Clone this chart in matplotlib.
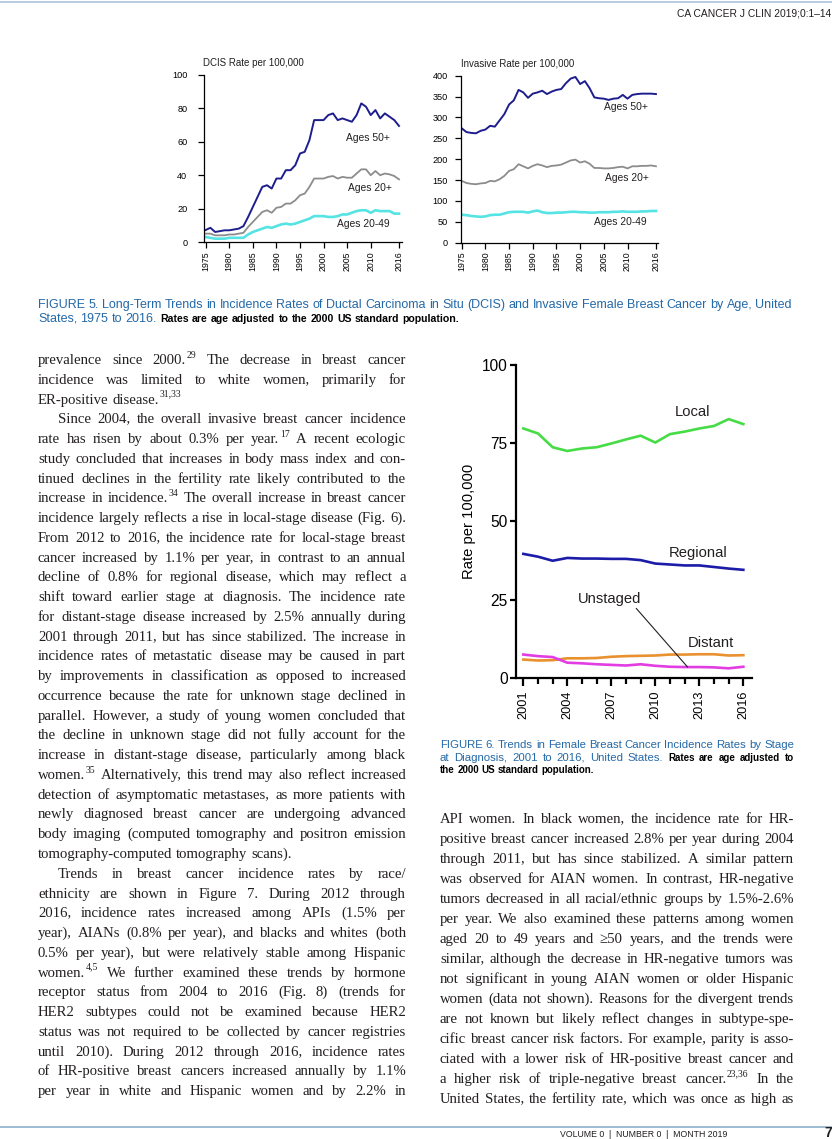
import math
import matplotlib
matplotlib.use("Agg")
import matplotlib.pyplot as plt

# ---- data: Figure 5 (rates per 100,000, 1975-2016) ----
years5 = list(range(1975, 2017))
dcis_50plus = [7.2, 8.5, 6.0, 6.5, 7.0, 7.0, 7.5, 8.0, 9.5, 15,
               21, 27, 33, 34, 32, 38, 38, 43, 43, 46,
               53, 54, 61, 73, 73, 73, 76, 77, 73, 74,
               73, 72, 76, 83, 81, 76, 79, 74, 77, 75,
               73, 69.5]
dcis_20plus = [5, 5, 4, 4, 4, 4.5, 4.5, 5, 5.5, 9,
               12, 15, 18, 19, 17.5, 20.5, 21, 23, 23, 25,
               28, 29, 33, 38, 38, 38, 39, 39.5, 38, 39,
               38.5, 38.5, 41, 43.5, 43.5, 40, 42.5, 40, 41, 40.5,
               39.5, 37.5]
dcis_20to49 = [3, 2.5, 2, 2, 2, 2.5, 2.5, 2.5, 2.5, 4.5,
               6, 7, 8, 9, 8.5, 9.5, 10.5, 11, 10.5, 11,
               12, 13, 14, 15.5, 15.5, 15.5, 15, 15, 15.5, 16.5,
               16.5, 17.5, 18.5, 19, 19, 17.5, 19, 18.5, 18.5, 18.5,
               17, 17]
inv_50plus = [274, 265, 263, 262, 268, 271, 280, 278, 293, 308,
              331, 341, 366, 360, 347, 357, 360, 364, 356, 362,
              366, 368, 382, 393, 397, 380, 387, 370, 348, 346,
              345, 342, 345, 346, 354, 345, 354, 356, 357, 357,
              357, 356]
inv_20plus = [148, 143, 141, 140, 142, 143, 148, 147, 152, 160,
              172, 176, 188, 183, 178, 184, 188, 185, 181, 184,
              185, 187, 192, 197, 199, 192, 195, 189, 179, 179,
              178, 178, 179, 181, 182, 178, 183, 183, 184, 184,
              185, 183]
inv_20to49 = [67, 66, 64, 63, 62, 63, 66, 67, 67, 70,
              73, 74, 74, 74, 72, 75, 77, 73, 71, 71,
              72, 72, 73, 74, 74, 73, 73, 72, 72, 73,
              73, 73, 74, 74, 75, 74, 74, 74, 75, 75,
              76, 76]
ticks5 = [1975, 1980, 1985, 1990, 1995, 2000, 2005, 2010, 2016]

# ---- data: Figure 6 (rates per 100,000 by stage, 2001-2016) ----
years6 = list(range(2001, 2017))
local = [79.7, 78.1, 73.7, 72.5, 73.3, 73.7, 74.9, 76.2, 77.4, 75.2, 77.9, 78.7, 79.7, 80.5, 82.7, 81.1]
regional = [39.6, 38.7, 37.4, 38.3, 38.1, 38.1, 38.0, 38.0, 37.6, 36.5, 36.2, 35.9, 35.9, 35.4, 34.9, 34.5]
distant = [5.8, 5.5, 5.6, 6.2, 6.2, 6.3, 6.7, 6.9, 7.0, 7.1, 7.4, 7.4, 7.5, 7.5, 7.1, 7.2]
unstaged = [7.4, 6.9, 6.6, 4.8, 4.6, 4.3, 4.1, 3.9, 4.3, 3.8, 3.5, 3.4, 3.4, 3.3, 3.0, 3.5]
ticks6 = [2001, 2004, 2007, 2010, 2013, 2016]

# ---- page text ----
left_lines = [
    "prevalence since 2000.^29 The decrease in breast cancer",
    "incidence was limited to white women, primarily for",
    "ER-positive disease.^31,33",
    "Since 2004, the overall invasive breast cancer incidence",
    "rate has risen by about 0.3% per year.^17 A recent ecologic",
    "study concluded that increases in body mass index and con-",
    "tinued declines in the fertility rate likely contributed to the",
    "increase in incidence.^34 The overall increase in breast cancer",
    "incidence largely reflects a rise in local-stage disease (Fig. 6).",
    "From 2012 to 2016, the incidence rate for local-stage breast",
    "cancer increased by 1.1% per year, in contrast to an annual",
    "decline of 0.8% for regional disease, which may reflect a",
    "shift toward earlier stage at diagnosis. The incidence rate",
    "for distant-stage disease increased by 2.5% annually during",
    "2001 through 2011, but has since stabilized. The increase in",
    "incidence rates of metastatic disease may be caused in part",
    "by improvements in classification as opposed to increased",
    "occurrence because the rate for unknown stage declined in",
    "parallel. However, a study of young women concluded that",
    "the decline in unknown stage did not fully account for the",
    "increase in distant-stage disease, particularly among black",
    "women.^35 Alternatively, this trend may also reflect increased",
    "detection of asymptomatic metastases, as more patients with",
    "newly diagnosed breast cancer are undergoing advanced",
    "body imaging (computed tomography and positron emission",
    "tomography-computed tomography scans).",
    "Trends in breast cancer incidence rates by race/",
    "ethnicity are shown in Figure 7. During 2012 through",
    "2016, incidence rates increased among APIs (1.5% per",
    "year), AIANs (0.8% per year), and blacks and whites (both",
    "0.5% per year), but were relatively stable among Hispanic",
    "women.^4,5 We further examined these trends by hormone",
    "receptor status from 2004 to 2016 (Fig. 8) (trends for",
    "HER2 subtypes could not be examined because HER2",
    "status was not required to be collected by cancer registries",
    "until 2010). During 2012 through 2016, incidence rates",
    "of HR-positive breast cancers increased annually by 1.1%",
    "per year in white and Hispanic women and by 2.2% in",
]
left_indent = [3, 26]
left_ragged = [2, 25]

right_lines = [
    "API women. In black women, the incidence rate for HR-",
    "positive breast cancer increased 2.8% per year during 2004",
    "through 2011, but has since stabilized. A similar pattern",
    "was observed for AIAN women. In contrast, HR-negative",
    "tumors decreased in all racial/ethnic groups by 1.5%-2.6%",
    "per year. We also examined these patterns among women",
    "aged 20 to 49 years and \u226550 years, and the trends were",
    "similar, although the decrease in HR-negative tumors was",
    "not significant in young AIAN women or older Hispanic",
    "women (data not shown). Reasons for the divergent trends",
    "are not known but likely reflect changes in subtype-spe-",
    "cific breast cancer risk factors. For example, parity is asso-",
    "ciated with a lower risk of HR-positive breast cancer and",
    "a higher risk of triple-negative breast cancer.^23,36 In the",
    "United States, the fertility rate, which was once as high as",
]

W, H = 832, 1139
fig = plt.figure(figsize=(W / 100, H / 100), dpi=100)
rend = fig.canvas.get_renderer()

SANS = ["Liberation Sans", "DejaVu Sans"]
SERIF = ["Liberation Serif", "DejaVu Serif"]
BLUE = "#2469a8"
INK = "#231f20"


def put(x, y, s, **kw):
    kw.setdefault("va", "baseline")
    return fig.text(x / W, 1 - y / H, s, **kw)


def measure(s, st):
    # ink width, height and descent of s, in pixels
    t = put(0, 500, s, **st)
    w = t.get_window_extent(rend).width
    _, h, d = rend.get_text_width_height_descent(s, t.get_fontproperties(), ismath=False)
    t.remove()
    return w, h, d


def put_word(x, y, s, st):
    # place on the pixel grid so every word lands on the same baseline row
    _, h, d = measure(s, st)
    yy = round(y) + math.floor(h) - math.floor(h - d) - d
    return put(x, yy, s, **st)


def px_axes(l, t, r, b):
    return fig.add_axes([l / W, 1 - b / H, (r - l) / W, (b - t) / H])


def set_line(words, x0, x1, y, justify=True):
    # words: list of (text, style); "^" marks a superscript
    items = []
    for s, st in words:
        base, _, sup = s.partition("^")
        wb = measure(base, st)[0]
        sst = dict(st, fontsize=st["fontsize"] * 0.66)
        ws = measure(sup, sst)[0] + 0.8 if sup else 0
        items.append((base, st, wb, sup, sst, ws))
    total = sum(it[2] + it[5] for it in items)
    if justify and len(items) > 1:
        gap = (x1 - x0 - total) / (len(items) - 1)
    else:
        gap = items[0][1]["fontsize"] * 0.36
    x = x0
    for base, st, wb, sup, sst, ws in items:
        put_word(x, y, base, st)
        if sup:
            put_word(x + wb + 0.6, y - st["fontsize"] * 0.6, sup, sst)
        x += wb + ws + gap


body = dict(fontsize=10.6, family=SERIF, color=INK)
for i, ln in enumerate(left_lines):
    x0 = 38 + (20 if i in left_indent else 0)
    set_line([(w, body) for w in ln.split()], x0, 406, 364 + i * 19.76,
             justify=i not in left_ragged)
for i, ln in enumerate(right_lines):
    set_line([(w, body) for w in ln.split()], 440, 794, 823 + i * 20)

# captions
cap5 = dict(fontsize=9.0, family=SANS, color=BLUE)
cap5b = dict(fontsize=7.6, family=SANS, color="black", weight="bold")
l1 = "FIGURE 5. Long-Term Trends in Incidence Rates of Ductal Carcinoma in Situ (DCIS) and Invasive Female Breast Cancer by Age, United"
set_line([(w, cap5) for w in l1.split()], 38, 792, 308)
set_line([(w, cap5) for w in "States, 1975 to 2016.".split()] +
         [(w, cap5b) for w in "Rates are age adjusted to the 2000 US standard population.".split()],
         38, 792, 322, justify=False)

cap6 = dict(fontsize=8.2, family=SANS, color=BLUE)
cap6b = dict(fontsize=7.0, family=SANS, color="black", weight="bold")
set_line([(w, cap6) for w in "FIGURE 6. Trends in Female Breast Cancer Incidence Rates by Stage".split()],
         440, 794, 748)
set_line([(w, cap6) for w in "at Diagnosis, 2001 to 2016, United States.".split()] +
         [(w, cap6b) for w in "Rates are age adjusted to".split()], 440, 794, 761)
set_line([(w, cap6b) for w in "the 2000 US standard population.".split()], 440, 794, 773, justify=False)

# header / footer
fig.add_artist(plt.Line2D([0, 1], [1 - 1.5 / H] * 2, color="#a9c4dc", lw=1.2))
put(831, 17, "CA CANCER J CLIN 2019;0:1\u201314", fontsize=7.4, family=SANS, color=INK, ha="right")
fig.add_artist(plt.Line2D([0, 1], [1 - 1127 / H] * 2, color="#8fb0cc", lw=1.2))
put(644, 1137, "VOLUME 0  |  NUMBER 0  |  MONTH 2019", fontsize=6.3, family=SANS, color=INK, ha="center")
put(832, 1137, "7", fontsize=10, family=SANS, color=INK, weight="bold", ha="right")


def style5(ax, pad_y):
    for s in ["top", "right"]:
        ax.spines[s].set_visible(False)
    for s in ["left", "bottom"]:
        ax.spines[s].set_linewidth(0.9)
    ax.set_xticks(ticks5)
    ax.set_xticklabels([str(t) for t in ticks5], rotation=90, family=SANS, fontsize=6.3)
    ax.tick_params(axis="x", length=4, width=0.9, pad=2.5)
    ax.tick_params(axis="y", length=4, width=0.9, pad=pad_y, labelsize=6.6)
    for lab in ax.get_yticklabels():
        lab.set_family(SANS)
    ax.patch.set_alpha(0)


NAVY, GREY, CYAN = "#1d1d8e", "#8c8c8c", "#55e3e3"

# Figure 5, DCIS panel
ax1 = px_axes(204, 75, 401.7, 242)
ax1.plot(years5, dcis_20to49, color=CYAN, lw=1.9)
ax1.plot(years5, dcis_20plus, color=GREY, lw=1.3)
ax1.plot(years5, dcis_50plus, color=NAVY, lw=1.4)
ax1.set_xlim(1974.64, 2016.57)
ax1.set_ylim(0, 100)
ax1.set_yticks([0, 20, 40, 60, 80, 100])
style5(ax1, 8)
kw5 = dict(fontsize=7.4, family=SANS, color=INK, ha="center", va="center")
ax1.text(2009.4, 62.3, "Ages 50+", **kw5)
ax1.text(2009.85, 32.2, "Ages 20+", **kw5)
ax1.text(2008.4, 10.6, "Ages 20-49", **kw5)
put(203, 66.5, "DCIS Rate per 100,000", fontsize=7.0, family=SANS, color=INK)

# Figure 5, invasive panel
ax2 = px_axes(460.7, 75.7, 657.5, 242.7)
ax2.plot(years5, inv_20to49, color=CYAN, lw=1.9)
ax2.plot(years5, inv_20plus, color=GREY, lw=1.3)
ax2.plot(years5, inv_50plus, color=NAVY, lw=1.4)
ax2.set_xlim(1974.79, 2016.33)
ax2.set_ylim(0, 400)
ax2.set_yticks(range(0, 401, 50))
style5(ax2, 5)
ax2.text(2009.6, 324, "Ages 50+", **kw5)
ax2.text(2009.95, 154, "Ages 20+", **kw5)
ax2.text(2008.55, 49, "Ages 20-49", **kw5)
put(461, 67, "Invasive Rate per 100,000", fontsize=7.0, family=SANS, color=INK)

# Figure 6
ax3 = px_axes(516, 365, 751.7, 677.7)
ax3.plot(years6, local, color="#46dc46", lw=1.9)
ax3.plot(years6, regional, color="#1c1ca8", lw=1.9)
ax3.plot(years6, distant, color="#e8912e", lw=1.9)
ax3.plot(years6, unstaged, color="#e23de2", lw=1.9)
ax3.set_xlim(2000.5, 2016.57)
ax3.set_ylim(0, 100)
ax3.set_yticks([0, 25, 50, 75, 100])
ax3.set_xticks(ticks6)
ax3.set_xticks(years6, minor=True)
ax3.set_xticklabels([str(t) for t in ticks6], rotation=90, family=SANS, fontsize=9.2)
for lab in ax3.get_yticklabels():
    lab.set_family(SANS)
for s in ["top", "right"]:
    ax3.spines[s].set_visible(False)
for s in ["left", "bottom"]:
    ax3.spines[s].set_linewidth(1.6)
ax3.tick_params(axis="x", which="major", length=6, width=1.6, pad=3)
ax3.tick_params(axis="x", which="minor", length=4, width=1.6)
ax3.tick_params(axis="y", length=4.5, width=1.6, pad=1.5, labelsize=11.2)
ax3.set_ylabel("Rate per 100,000", family=SANS, fontsize=10.6, labelpad=4)
ax3.patch.set_alpha(0)
kw6 = dict(fontsize=10.6, family=SANS, color=INK, ha="center", va="center")
ax3.text(2012.53, 85.1, "Local", **kw6)
ax3.text(2012.93, 39.9, "Regional", **kw6)
ax3.text(2013.78, 11.1, "Distant", **kw6)
ax3.annotate("Unstaged", xy=(2012.2, 3.4), xytext=(2006.85, 25.3), fontsize=10.6, family=SANS,
             color=INK, ha="center", va="center",
             arrowprops=dict(arrowstyle="-", color=INK, lw=0.8, shrinkA=0, shrinkB=0, relpos=(0.87, 0.1)))

fig.savefig("out.png", dpi=100)
